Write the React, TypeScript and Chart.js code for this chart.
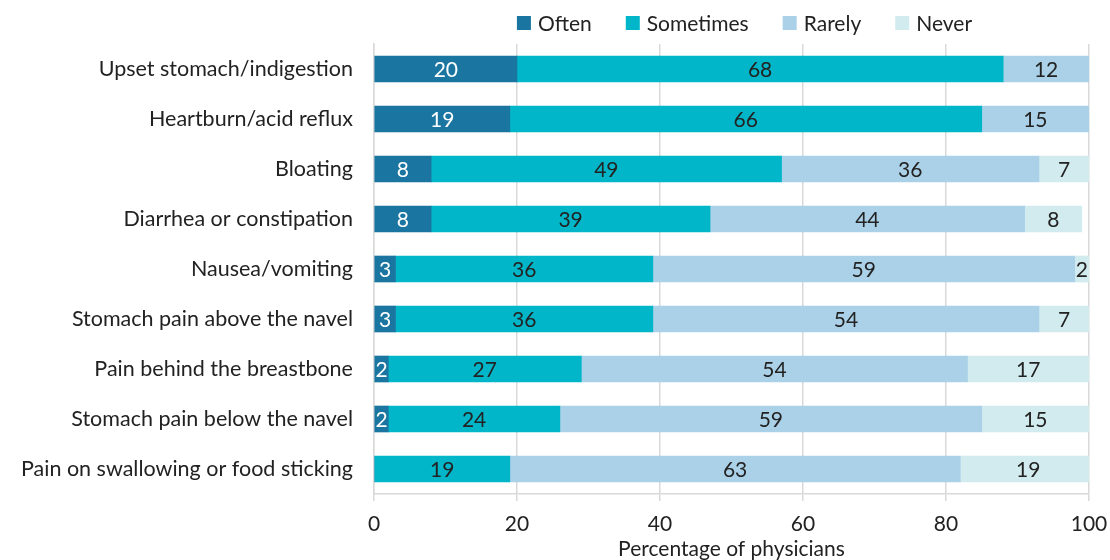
import React, { useEffect, useRef } from "react";
import { Chart, registerables } from "chart.js";

Chart.register(...registerables);

const categories = [
  "Upset stomach/indigestion",
  "Heartburn/acid reflux",
  "Bloating",
  "Diarrhea or constipation",
  "Nausea/vomiting",
  "Stomach pain above the navel",
  "Pain behind the breastbone",
  "Stomach pain below the navel",
  "Pain on swallowing or food sticking",
];

const often = [20, 19, 8, 8, 3, 3, 2, 2, 0];
const sometimes = [68, 66, 49, 39, 36, 36, 27, 24, 19];
const rarely = [12, 15, 36, 44, 59, 54, 54, 59, 63];
const never = [0, 0, 7, 8, 2, 7, 17, 15, 19];

const seriesNames = ["Often", "Sometimes", "Rarely", "Never"];
const seriesColors = ["#1a76a1", "#00b6c8", "#abd1e8", "#d2ebef"];
const labelColors = ["#ffffff", "#222222", "#222222", "#222222"];

const xTicks = [0, 20, 40, 60, 80, 100];
const xTitle = "Percentage of physicians";

const FONT = "Lato, 'Open Sans', sans-serif";

const valueLabelPlugin = {
  id: "valueLabels",
  afterDatasetsDraw(chart: any) {
    const ctx = chart.ctx;
    ctx.save();
    ctx.font = `21px ${FONT}`;
    ctx.textAlign = "center";
    ctx.textBaseline = "middle";
    chart.data.datasets.forEach((ds: any, di: number) => {
      const meta = chart.getDatasetMeta(di);
      meta.data.forEach((bar: any, i: number) => {
        const v = ds.data[i];
        if (!v) return;
        const { x, base, y } = bar.getProps(["x", "base", "y"], true);
        const cx = (x + base) / 2;
        ctx.fillStyle = labelColors[di];
        ctx.fillText(String(v), cx, y + 1);
      });
    });
    ctx.restore();
  },
};

const legendPlugin = {
  id: "customLegend",
  afterDraw(chart: any) {
    const ctx = chart.ctx;
    ctx.save();
    ctx.font = `21px ${FONT}`;
    ctx.textBaseline = "middle";
    const box = 14;
    const gapBoxText = 7;
    const gapItems = 34;
    const widths = seriesNames.map((n) => box + gapBoxText + ctx.measureText(n).width);
    const total = widths.reduce((a, b) => a + b, 0) + gapItems * (seriesNames.length - 1);
    const ca = chart.chartArea;
    let x = (ca.left + ca.right) / 2 + 13 - total / 2;
    const y = 23;
    seriesNames.forEach((n, i) => {
      ctx.fillStyle = seriesColors[i];
      ctx.fillRect(x, y - box / 2, box, box);
      ctx.fillStyle = "#222222";
      ctx.textAlign = "left";
      ctx.fillText(n, x + box + gapBoxText, y + 1);
      x += widths[i] + gapItems;
    });
    ctx.restore();
  },
};

export default function App() {
  const ref = useRef<HTMLCanvasElement>(null);

  useEffect(() => {
    document.body.style.margin = "0";
    const seriesData = [often, sometimes, rarely, never];
    const chart = new Chart(ref.current!, {
      type: "bar",
      data: {
        labels: categories,
        datasets: seriesNames.map((name, i) => ({
          label: name,
          data: seriesData[i],
          backgroundColor: seriesColors[i],
          borderWidth: 0,
          barThickness: 26,
        })),
      },
      options: {
        indexAxis: "y",
        animation: false,
        responsive: false,
        maintainAspectRatio: false,
        layout: { padding: { top: 44, right: 21, left: 0, bottom: 0 } },
        plugins: {
          legend: { display: false },
          tooltip: { enabled: false },
        },
        scales: {
          x: {
            stacked: true,
            min: 0,
            max: 100,
            afterBuildTicks: (axis: any) => {
              axis.ticks = xTicks.map((v) => ({ value: v }));
            },
            afterFit: (scale: any) => {
              scale.height = 66;
              scale.paddingLeft = 0;
              scale.paddingRight = 0;
            },
            grid: {
              color: "#d9d9d9",
              lineWidth: 1.5,
              drawTicks: true,
              tickLength: 7,
            },
            border: { display: true, color: "#d9d9d9", width: 1.5 },
            ticks: {
              color: "#222222",
              font: { family: FONT, size: 21, lineHeight: 1.0 },
              padding: 13,
              maxRotation: 0,
            },
            title: {
              display: true,
              text: xTitle,
              color: "#222222",
              font: { family: FONT, size: 21, lineHeight: 1.0 },
              padding: { top: 0, bottom: 0 },
            },
          },
          y: {
            stacked: true,
            grid: { display: false, drawTicks: false },
            border: { display: true, color: "#d9d9d9", width: 1.5 },
            ticks: {
              color: "#222222",
              font: { family: FONT, size: 21.5 },
              padding: 21,
            },
          },
        },
      },
      plugins: [valueLabelPlugin, legendPlugin],
    });
    return () => chart.destroy();
  }, []);

  return (
    <div style={{ width: 1110, height: 560 }}>
      <canvas ref={ref} width={1110} height={560} />
    </div>
  );
}
